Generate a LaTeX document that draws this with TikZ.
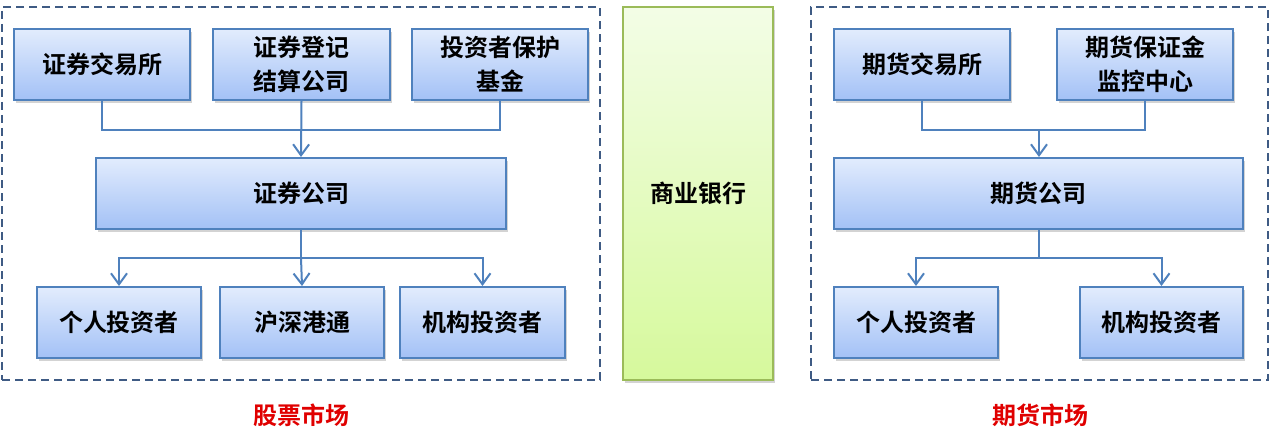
\documentclass[tikz,border=0pt]{standalone}
\usepackage{fontspec}
\newfontfamily\cjk{Noto Sans CJK SC Bold}
\usetikzlibrary{arrows.meta,shadows,positioning}
\definecolor{bbord}{HTML}{4F81BD}
\definecolor{btop}{HTML}{E2ECFD}
\definecolor{bbot}{HTML}{A3C1F6}
\definecolor{gbord}{HTML}{9BBB59}
\definecolor{gtop}{HTML}{F3FDE6}
\definecolor{gbot}{HTML}{D6F99C}
\definecolor{dashc}{HTML}{3F5B84}
\definecolor{titred}{HTML}{E00000}
\tikzset{
  bx/.style={draw=bbord, line width=2pt, top color=btop, bottom color=bbot,
    minimum height=71pt, inner sep=0pt, align=center,
    font=\cjk\fontsize{24pt}{34pt}\selectfont,
    drop shadow={shadow xshift=2pt, shadow yshift=-3pt, opacity=0.35}},
  gbx/.style={draw=gbord, line width=2pt, top color=gtop, bottom color=gbot,
    inner sep=0pt, align=center, font=\cjk\fontsize{24pt}{34pt}\selectfont,
    drop shadow={shadow xshift=2pt, shadow yshift=-3pt, opacity=0.35}},
  frame/.style={draw=dashc, line width=2pt, dash pattern=on 8pt off 5pt},
  conn/.style={draw=bbord, line width=2pt},
  arr/.style={conn, -{Straight Barb[length=11pt,width=16pt,line width=2pt]}},
  tit/.style={text=titred, font=\cjk\fontsize{24pt}{28pt}\selectfont},
}
\begin{document}
\begin{tikzpicture}[x=1pt,y=-1pt]
\useasboundingbox (0,0) rectangle (1270,439);
% frames
\node[frame, minimum width=598pt, minimum height=373pt, inner sep=0pt] (lf) at (301,193.5) {};
\node[frame, minimum width=457pt, minimum height=373pt, inner sep=0pt] (rf) at (1039.5,193.5) {};
% left top row
\node[bx, minimum width=176pt] (a1) at (102,64.5) {证券交易所};
\node[bx, minimum width=177pt] (a2) at (301.5,64.5) {证券登记\\结算公司};
\node[bx, minimum width=176pt] (a3) at (500,64.5) {投资者保护\\基金};
\node[bx, minimum width=410pt] (sc) at (301,193.5) {证券公司};
\node[bx, minimum width=164pt] (b1) at (119,322.5) {个人投资者};
\node[bx, minimum width=164pt] (b2) at (302,322.5) {沪深港通};
\node[bx, minimum width=165pt] (b3) at (482.5,322.5) {机构投资者};
% connectors left
\coordinate (j1) at (301,130);
\draw[conn] (a1.south) |- (j1) -| (a3.south);
\draw[arr] (a2.south) -- (sc.north);
\coordinate (j2) at (301,258);
\draw[conn] (sc.south) -- (j2);
\draw[arr] (j2) -| (b1.north);
\draw[arr] (j2) -| (b3.north);
\draw[arr] (j2) -- (b2.north);
% bank
\node[gbx, minimum width=150pt, minimum height=373pt] (bank) at (698,193.5) {商业银行};
% right
\node[bx, minimum width=176pt] (c1) at (922,64.5) {期货交易所};
\node[bx, minimum width=176pt] (c2) at (1145,64.5) {期货保证金\\监控中心};
\node[bx, minimum width=409pt] (fc) at (1038.5,193.5) {期货公司};
\node[bx, minimum width=164pt] (d1) at (916,322.5) {个人投资者};
\node[bx, minimum width=163pt] (d2) at (1161.5,322.5) {机构投资者};
\coordinate (k1) at (1039,130);
\draw[conn] (c1.south) |- (k1) -| (c2.south);
\draw[arr] (k1) -- (k1 |- fc.north);
\coordinate (k2) at (1039,258);
\draw[conn] (k2 |- fc.south) -- (k2);
\draw[arr] (k2) -| (d1.north);
\draw[arr] (k2) -| (d2.north);
% titles
\node[tit] (t1) at (301,415) {股票市场};
\node[tit] (t2) at (1040,415) {期货市场};
\end{tikzpicture}
\end{document}
